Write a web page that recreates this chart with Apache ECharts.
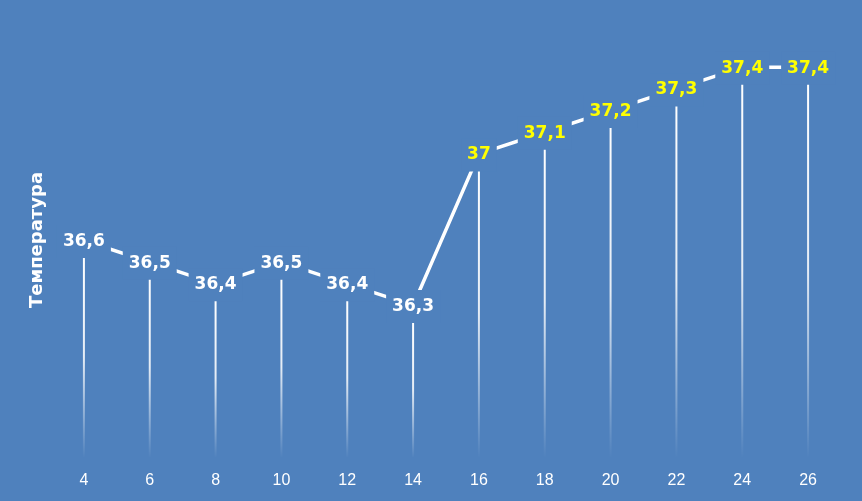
<!DOCTYPE html>
<html><head><meta charset="utf-8">
<script src="https://cdn.jsdelivr.net/npm/echarts@6/dist/echarts.min.js"></script>
<style>html,body{margin:0;padding:0;background:#4f81bd}#c{width:862px;height:501px}</style>
</head><body><div id="c"></div>
<script>
const categories = ['4','6','8','10','12','14','16','18','20','22','24','26'];
const temperatures = [36.6, 36.5, 36.4, 36.5, 36.4, 36.3, 37, 37.1, 37.2, 37.3, 37.4, 37.4];
const axisTitle = 'Температура';
const yMin = 35.6, yMax = 37.6;

const BG = '#4f81bd';
const chart = echarts.init(document.getElementById('c'), null, {renderer:'canvas'});
const fmt = v => String(v).replace('.', ',');

chart.setOption({
  backgroundColor: BG,
  animation: false,
  grid: {left: 51, right: 21, top: 24, bottom: 44},
  xAxis: {
    type: 'category', data: categories, boundaryGap: true,
    axisLine: {show: false}, axisTick: {show: false}, splitLine: {show: false},
    axisLabel: {color: '#ffffff', fontSize: 16, fontFamily: 'Liberation Sans, Arial', margin: 16}
  },
  yAxis: {
    type: 'value', min: yMin, max: yMax, show: false
  },
  graphic: [{
    type: 'text', x: 37, y: 240, rotation: Math.PI / 2,
    style: {text: axisTitle, fill: '#ffffff', font: 'bold 18px "DejaVu Sans"', align: 'center', verticalAlign: 'middle'}
  }],
  series: [
    {
      type: 'custom', z: 1,
      data: temperatures.map((v, i) => [i, v]),
      renderItem: function (params, api) {
        const top = api.coord([api.value(0), api.value(1)]);
        const bot = api.coord([api.value(0), yMin]);
        return {
          type: 'line',
          shape: {x1: top[0], y1: top[1] + 15, x2: bot[0], y2: bot[1]},
          style: {
            lineWidth: 2,
            stroke: new echarts.graphic.LinearGradient(0, 0, 0, 1, [
              {offset: 0, color: 'rgba(255,255,255,1)'},
              {offset: 0.5, color: 'rgba(255,255,255,0.85)'},
              {offset: 1, color: 'rgba(255,255,255,0)'}
            ], false)
          }
        };
      }
    },
    {
      type: 'line', z: 2, data: temperatures, symbol: 'none',
      lineStyle: {color: '#ffffff', width: 3.5}
    },
    {
      type: 'custom', z: 10,
      data: temperatures.map((v, i) => [i, v]),
      renderItem: function (params, api) {
        const v = api.value(1);
        const p = api.coord([api.value(0), v]);
        return {
          type: 'text', x: p[0], y: p[1] + 1, z2: 100,
          style: {
            text: fmt(v),
            fill: v >= 37 ? '#ffff00' : '#ffffff',
            font: 'bold 17px "DejaVu Sans"',
            align: 'center', verticalAlign: 'middle',
            backgroundColor: BG, padding: [8, 6]
          }
        };
      }
    }
  ]
});
</script>
</body></html>
